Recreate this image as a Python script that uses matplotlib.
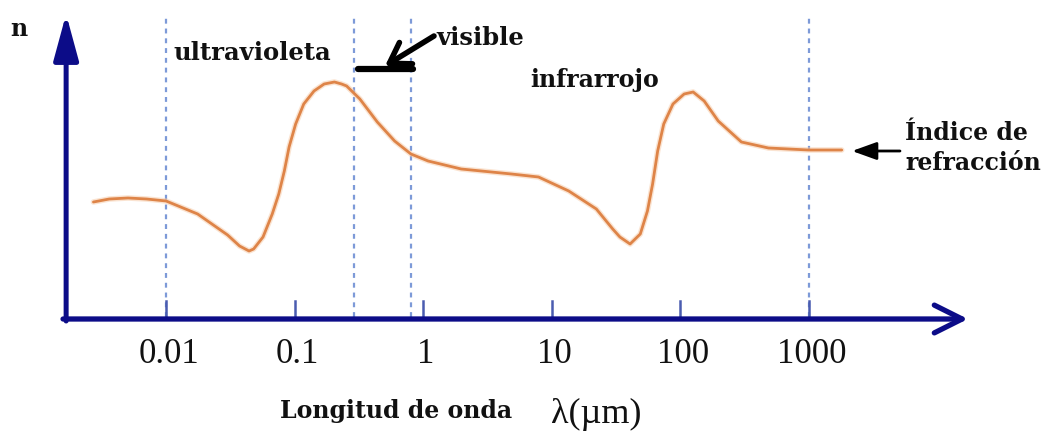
import matplotlib
matplotlib.use("Agg")
import matplotlib.pyplot as plt

# Dispersion curve: wavelength (µm) vs. relative refractive index
wavelength_um = [0.00272, 0.00361, 0.00505, 0.00705, 0.0100, 0.0176, 0.0301, 0.0373,
                 0.0442, 0.0480, 0.0568, 0.0670, 0.0753, 0.0832, 0.0906, 0.1019,
                 0.1178, 0.1416, 0.1698, 0.2042, 0.232, 0.254, 0.322, 0.440, 0.600,
                 0.804, 1.094, 1.98, 4.87, 7.91, 13.6, 22.3, 29.9, 34.0, 40.8, 49.0,
                 55.7, 61.1, 66.9, 74.6, 88.0, 107.5, 126.4, 154.0, 198.0, 300.0,
                 487.0, 1000.0, 1811.0]
index_n = [1.17, 1.20, 1.21, 1.20, 1.18, 1.05, 0.84, 0.73,
           0.68, 0.70, 0.82, 1.05, 1.25, 1.48, 1.72, 1.95,
           2.15, 2.28, 2.35, 2.37, 2.35, 2.33, 2.20, 1.97, 1.78,
           1.65, 1.58, 1.50, 1.45, 1.42, 1.28, 1.10, 0.90, 0.82, 0.75, 0.85,
           1.08, 1.35, 1.68, 1.95, 2.15, 2.25, 2.27, 2.18, 1.98, 1.77,
           1.71, 1.69, 1.69]

# Decade ticks and their labels
tick_values = [0.01, 0.1, 1, 10, 100, 1000]
tick_labels = ["0.01", "0.1", "1", "10", "100", "1000"]

# Region boundaries (µm): UV start, visible band, far IR
boundaries = [0.01, 0.29, 0.80, 1000]

W, H = 1045, 435
NAVY = "#0c0c88"
ORANGE = "#de8448"
DASH = "#7d9ad8"
TICK = "#4a5cb0"

fig = plt.figure(figsize=(W / 100, H / 100), dpi=100)
fig.patch.set_facecolor("white")
ax = fig.add_axes([0, 0, 1, 1])
ax.set_xscale("log")
ax.set_xlim(10 ** -3.2926, 10 ** 4.8397)
ax.set_ylim(-1.15, 3.20)
ax.axis("off")


def fx(px):
    return px / W


def fy(py):
    return 1 - py / H


# Dashed region boundaries
for b in boundaries:
    ax.plot([b, b], [0.02, 3.05], color=DASH, lw=1.6, ls=(0, (2.2, 2.2)), zorder=1)

# Decade tick marks
for t in tick_values:
    ax.plot([t, t], [0.02, 0.18], color=TICK, lw=1.8, zorder=2)

# Tick labels
for t, lab in zip(tick_values, tick_labels):
    ax.text(t * 1.05, -0.43, lab, ha="center", va="baseline",
            fontsize=25, family="Liberation Serif", color="#111111")

# Axes with arrow heads
x0 = 10 ** -2.778
ax.annotate("", xy=(x0, 3.05), xytext=(x0, -0.02),
            arrowprops=dict(arrowstyle="-|>,head_length=1.4,head_width=0.38",
                            lw=3.6, color=NAVY, shrinkA=0, shrinkB=0,
                            mutation_scale=20, capstyle="round", joinstyle="round"),
            zorder=4)
ax.annotate("", xy=(10 ** 4.2404, 0.0), xytext=(10 ** -2.802, 0.0),
            arrowprops=dict(arrowstyle="->,head_length=1.0,head_width=0.5",
                            lw=3.8, color=NAVY, shrinkA=0, shrinkB=0,
                            mutation_scale=20, capstyle="round", joinstyle="round"),
            zorder=4)

# Dispersion curve
ax.plot(wavelength_um, index_n, color="#f6c9a4", lw=4.0, alpha=0.5,
        solid_capstyle="round", zorder=3)
ax.plot(wavelength_um, index_n, color=ORANGE, lw=2.0,
        solid_capstyle="round", solid_joinstyle="round", zorder=3)

# Labels
bold = dict(family="DejaVu Serif", weight="bold", color="#111111")
fig.text(fx(10), fy(36), "n", fontsize=17, va="baseline", **bold)
fig.text(fx(173), fy(60), "ultravioleta", fontsize=17.5, va="baseline", **bold)
fig.text(fx(436), fy(45), "visible", fontsize=17.5, va="baseline", **bold)
fig.text(fx(530), fy(87), "infrarrojo", fontsize=17, va="baseline", **bold)
fig.text(fx(905), fy(140), "Índice de", fontsize=17, va="baseline", **bold)
fig.text(fx(905), fy(170), "refracción", fontsize=17, va="baseline", **bold)
fig.text(fx(280), fy(418), "Longitud de onda", fontsize=17, va="baseline", **bold)
fig.text(fx(551), fy(423), "λ(µm)", fontsize=26, va="baseline",
         family="Liberation Serif", color="#111111")

# Visible-band marker: bar plus pointer
ax.annotate("", xy=(413, H - 70), xytext=(358, H - 70),
            xycoords="figure pixels", textcoords="figure pixels",
            arrowprops=dict(arrowstyle="-", lw=4.5, color="black",
                            shrinkA=0, shrinkB=0, capstyle="round"))
ax.annotate("", xy=(385, H - 67), xytext=(434, H - 37),
            xycoords="figure pixels", textcoords="figure pixels",
            arrowprops=dict(arrowstyle="->,head_length=0.7,head_width=0.45",
                            lw=4.0, color="black", shrinkA=0, shrinkB=0,
                            mutation_scale=20))

# Pointer to the curve
ax.annotate("", xy=(852, H - 152), xytext=(900, H - 152),
            xycoords="figure pixels", textcoords="figure pixels",
            arrowprops=dict(arrowstyle="-|>,head_length=0.75,head_width=0.27",
                            lw=2.0, color="black", shrinkA=0, shrinkB=0,
                            mutation_scale=20))

fig.savefig("out.png", dpi=100, facecolor="white")
